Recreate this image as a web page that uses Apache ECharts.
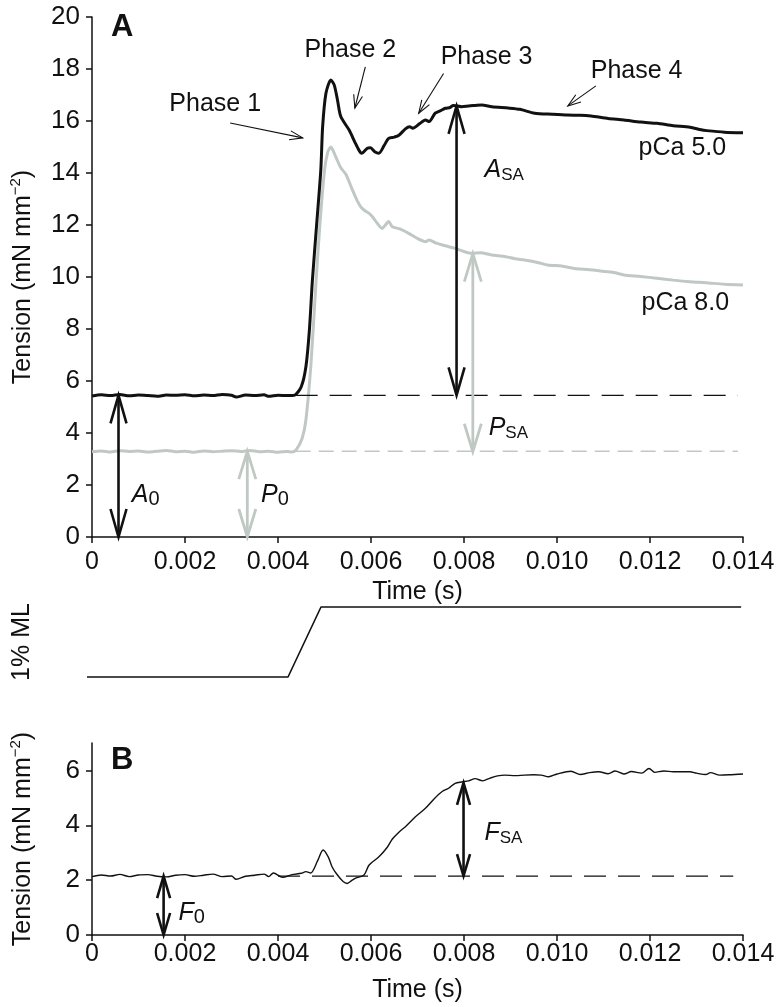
<!DOCTYPE html>
<html><head><meta charset="utf-8">
<script src="https://cdn.jsdelivr.net/npm/echarts@6/dist/echarts.min.js"></script>
<style>html,body{margin:0;padding:0;background:#fff}#c{width:780px;height:1007px}</style>
</head><body><div id="c"></div>
<script>
// ---------- data ----------
const xTickLabels = ['0','0.002','0.004','0.006','0.008','0.010','0.012','0.014'];
const yTickValuesA = [0,2,4,6,8,10,12,14,16,18,20];
const yTickValuesB = [0,2,4,6];

// pCa 5.0 (black) tension, panel A: [time s, mN mm^-2]
const pCa50 = [[0,5.42],[0.0002,5.47],[0.0004,5.44],[0.0006,5.48],[0.0008,5.43],[0.001,5.46],[0.0012,5.44],[0.0014,5.41],[0.0016,5.46],[0.0018,5.45],[0.002,5.47],[0.0022,5.43],[0.0024,5.46],[0.0026,5.44],[0.0028,5.48],[0.003,5.45],[0.0031,5.38],[0.0033,5.46],[0.0035,5.44],[0.0037,5.47],[0.0038,5.41],[0.004,5.45],[0.0042,5.44],[0.00436,5.46],[0.0045,5.78],[0.0046,6.55],[0.004675,7.96],[0.00474,9.88],[0.00483,12.0],[0.00492,14.1],[0.00496,15.78],[0.00503,17.06],[0.005137,17.58],[0.00521,17.38],[0.00528,16.8],[0.00535,16.17],[0.00553,15.65],[0.00565,15.2],[0.00574,14.88],[0.0058,14.76],[0.00592,14.95],[0.00599,14.97],[0.00608,14.82],[0.00617,14.76],[0.00628,15.05],[0.00638,15.33],[0.0065,15.38],[0.0066,15.45],[0.00674,15.7],[0.00683,15.78],[0.0069,15.72],[0.00705,15.9],[0.00717,16.04],[0.00725,15.98],[0.00738,16.3],[0.0075,16.4],[0.0076,16.49],[0.0077,16.52],[0.00777,16.6],[0.00786,16.58],[0.00795,16.55],[0.0081,16.58],[0.00824,16.6],[0.00838,16.62],[0.0086,16.55],[0.00895,16.5],[0.0092,16.45],[0.00952,16.3],[0.0099,16.26],[0.01023,16.23],[0.0105,16.22],[0.01073,16.19],[0.0111,16.1],[0.01144,16.04],[0.0118,15.96],[0.01215,15.91],[0.0125,15.82],[0.01286,15.76],[0.0131,15.66],[0.01322,15.63],[0.0136,15.57],[0.014,15.55]];

// pCa 8.0 (grey) tension, panel A
const pCa80 = [[0,3.28],[0.0002,3.31],[0.0004,3.27],[0.0006,3.32],[0.0008,3.29],[0.001,3.31],[0.0012,3.27],[0.0014,3.3],[0.0016,3.33],[0.0018,3.28],[0.002,3.3],[0.0022,3.26],[0.0024,3.31],[0.0026,3.28],[0.0028,3.3],[0.003,3.32],[0.0032,3.29],[0.0034,3.33],[0.0036,3.28],[0.0038,3.3],[0.004,3.26],[0.0042,3.29],[0.0043,3.27],[0.00439,3.35],[0.00452,3.8],[0.0046,4.5],[0.00471,6.68],[0.00482,9.88],[0.0049,12.0],[0.005,14.1],[0.00507,14.8],[0.005137,15.0],[0.00524,14.63],[0.00535,14.2],[0.00546,13.95],[0.0056,13.35],[0.0057,12.95],[0.00578,12.7],[0.00587,12.55],[0.00596,12.45],[0.00604,12.3],[0.00612,12.1],[0.00624,11.87],[0.0063,11.98],[0.00638,12.13],[0.00646,11.93],[0.00662,11.85],[0.00681,11.68],[0.00698,11.5],[0.00717,11.36],[0.00725,11.42],[0.0074,11.3],[0.0076,11.2],[0.00781,11.1],[0.008,10.98],[0.00817,10.91],[0.00835,10.93],[0.00859,10.85],[0.0089,10.78],[0.0091,10.7],[0.0093,10.65],[0.0096,10.55],[0.0098,10.46],[0.0101,10.42],[0.01037,10.33],[0.0107,10.28],[0.01109,10.2],[0.01125,10.16],[0.01144,10.08],[0.0118,10.02],[0.01215,9.95],[0.0125,9.88],[0.01286,9.82],[0.0132,9.78],[0.0136,9.72],[0.014,9.69]];

// muscle length step (1% ML), fraction of step
const lengthStep = [[-0.000385,0],[0.004275,0],[0.00498,1],[0.01396,1]];

// panel B tension
const traceB = [[0,2.13],[0.0002,2.19],[0.0004,2.15],[0.0006,2.21],[0.0008,2.13],[0.001,2.19],[0.0012,2.2],[0.0014,2.14],[0.0016,2.12],[0.0018,2.18],[0.002,2.2],[0.0022,2.14],[0.0024,2.18],[0.0026,2.22],[0.0028,2.13],[0.003,2.15],[0.0031,2.03],[0.0033,2.14],[0.0035,2.18],[0.0037,2.22],[0.0038,2.13],[0.0039,2.26],[0.0041,2.1],[0.0043,2.2],[0.0045,2.25],[0.0046,2.31],[0.0047,2.26],[0.00485,2.7],[0.00497,3.1],[0.00508,2.85],[0.00516,2.5],[0.00525,2.25],[0.0054,1.95],[0.00549,1.88],[0.00558,1.98],[0.00567,2.07],[0.00585,2.19],[0.00596,2.55],[0.00617,2.85],[0.00635,3.2],[0.00646,3.5],[0.0066,3.75],[0.00674,3.95],[0.00695,4.3],[0.00717,4.62],[0.00735,4.95],[0.00753,5.23],[0.00767,5.35],[0.00781,5.53],[0.00795,5.58],[0.0081,5.62],[0.00824,5.7],[0.0084,5.62],[0.00856,5.72],[0.00872,5.8],[0.00888,5.83],[0.0091,5.81],[0.0093,5.83],[0.0095,5.84],[0.00966,5.83],[0.00982,5.77],[0.01,5.87],[0.0103,5.97],[0.0105,5.85],[0.0107,5.92],[0.0109,5.95],[0.0111,5.88],[0.01125,5.98],[0.01144,5.87],[0.0116,5.96],[0.01182,5.9],[0.01198,6.07],[0.0121,5.93],[0.0123,5.98],[0.0125,5.95],[0.0127,5.95],[0.01286,5.95],[0.013,5.9],[0.0132,5.85],[0.0133,5.92],[0.0135,5.83],[0.0137,5.84],[0.014,5.87]];

// dashed reference levels
const dashA = [[0.00438,5.45],[0.01389,5.45]];
const dashP = [[0.00438,3.3],[0.01389,3.3]];
const dashB = [[0.0040,2.15],[0.01379,2.15]];

// double-headed measurement arrows: [time, from, to]
const arrowsBlackA = [[0.00057,0,5.45],[0.00784,5.45,16.58]];
const arrowsGreyA = [[0.00334,0,3.3],[0.00819,3.28,10.9]];
const arrowsB = [[0.00154,0,2.15],[0.00799,2.15,5.55]];

// phase pointer arrows: [t0, v0, t1(tip), v1(tip)]
const phaseArrows = [[0.002971,15.92,0.004531,15.35],[0.005878,18.08,0.005653,16.5],[0.00756,17.83,0.007026,16.3],[0.010837,17.35,0.010232,16.58]];
const phaseLabels = [[0.00265,16.65,'Phase 1'],[0.005557,18.73,'Phase 2'],[0.008485,18.44,'Phase 3'],[0.011713,17.93,'Phase 4']];
const curveLabels = [[0.012696,14.96,'pCa 5.0'],[0.01276,9.0,'pCa 8.0']];
// symbol labels: [t, v, letter, subscript]
const symbolLabelsA = [[0.000855,1.6,'A','0'],[0.003634,1.6,'P','0'],[0.008443,14.12,'A','SA'],[0.00853,4.19,'P','SA']];
const symbolLabelsB = [[0.00186,0.8,'F','0'],[0.00844,3.72,'F','SA']];
const panelLetterA = [[0.000406,19.6,'A']];
const panelLetterB = [[0.000406,6.38,'B']];

// ---------- chart ----------
const FONT = 'Liberation Sans, Arial, Helvetica, sans-serif';
const BLACK = '#111111';
const GREY = '#c0c8c4';
const chart = echarts.init(document.getElementById('c'), null, {renderer:'canvas'});

function xAxisCfg(gi, show, margin, nameGap) {
  return {
    gridIndex: gi, type: 'value', min: 0, max: 0.014, interval: 0.002, show: show,
    name: 'Time (s)', nameLocation: 'middle', nameGap: nameGap,
    nameTextStyle: {fontFamily: FONT, fontSize: 25, color: BLACK},
    axisLine: {lineStyle: {color: BLACK, width: 1.5}},
    axisTick: {length: 6, lineStyle: {color: BLACK, width: 1.5}},
    axisLabel: {fontFamily: FONT, fontSize: 25, color: BLACK, margin: margin,
      formatter: v => xTickLabels[Math.round(v / 0.002)]},
    splitLine: {show: false}
  };
}
function yAxisCfg(gi, max, ticks) {
  return {
    gridIndex: gi, type: 'value', min: 0, max: max, interval: 2,
    name: 'Tension (mN mm{sup|−2})', nameLocation: 'middle', nameGap: 54, nameRotate: 90,
    nameTextStyle: {fontFamily: FONT, fontSize: 25, color: BLACK, lineHeight: 30,
      rich: {sup: {fontFamily: FONT, fontSize: 15, color: BLACK, lineHeight: 16, verticalAlign: 'top'}}},
    axisLine: {lineStyle: {color: BLACK, width: 1.5}},
    axisTick: {length: 6, lineStyle: {color: BLACK, width: 1.5}, customValues: ticks},
    axisLabel: {fontFamily: FONT, fontSize: 26, color: BLACK, margin: 12, customValues: ticks},
    splitLine: {show: false}
  };
}

function headPts(tip, from, len, half) {
  const dx = tip[0] - from[0], dy = tip[1] - from[1];
  const L = Math.hypot(dx, dy) || 1;
  const ux = dx / L, uy = dy / L;
  const bx = tip[0] - ux * len, by = tip[1] - uy * len;
  return [[bx - uy * half, by + ux * half], [tip[0], tip[1]], [bx + uy * half, by - ux * half]];
}

function doubleArrowSeries(data, gi, color, width, len, half) {
  return {
    type: 'custom', xAxisIndex: gi, yAxisIndex: gi, clip: false, z: 5,
    data: data, encode: {x: 0, y: [1, 2]},
    renderItem: (params, api) => {
      const p1 = api.coord([api.value(0), api.value(1)]);
      const p2 = api.coord([api.value(0), api.value(2)]);
      const st = {stroke: color, lineWidth: width, fill: null, lineJoin: 'miter'};
      return {type: 'group', children: [
        {type: 'line', shape: {x1: p1[0], y1: p1[1] - 1, x2: p2[0], y2: p2[1] + 1}, style: st},
        {type: 'polyline', shape: {points: headPts(p2, p1, len, half)}, style: st},
        {type: 'polyline', shape: {points: headPts(p1, p2, len, half)}, style: st}
      ]};
    }
  };
}

function phaseArrowSeries(data, gi) {
  return {
    type: 'custom', xAxisIndex: gi, yAxisIndex: gi, clip: false, z: 5,
    data: data, encode: {x: [0, 2], y: [1, 3]},
    renderItem: (params, api) => {
      const p0 = api.coord([api.value(0), api.value(1)]);
      const p1 = api.coord([api.value(2), api.value(3)]);
      const st = {stroke: BLACK, lineWidth: 1.1, fill: null};
      return {type: 'group', children: [
        {type: 'line', shape: {x1: p0[0], y1: p0[1], x2: p1[0], y2: p1[1]}, style: st},
        {type: 'polyline', shape: {points: headPts(p1, p0, 13, 4.5)}, style: st}
      ]};
    }
  };
}

function textSeries(data, gi, styleFn) {
  return {
    type: 'custom', xAxisIndex: gi, yAxisIndex: gi, clip: false, z: 6, silent: true,
    data: data.map(d => [d[0], d[1]]),
    renderItem: (params, api) => {
      const p = api.coord([api.value(0), api.value(1)]);
      const d = data[params.dataIndex];
      return {type: 'text', x: p[0], y: p[1], style: styleFn(d)};
    }
  };
}

const plainStyle = d => ({text: d[2], fontFamily: FONT, fontSize: 25, fill: BLACK, align: 'center', verticalAlign: 'middle'});
const letterStyle = d => ({text: d[2], fontFamily: 'Liberation Sans, Arial, sans-serif', fontSize: 31, fontWeight: 'bold', fill: BLACK, align: 'left', verticalAlign: 'middle'});
const symStyle = d => ({
  text: '{i|' + d[2] + '}{s' + (d[3].length > 1 ? '2' : '1') + '|' + d[3] + '}',
  align: 'left', verticalAlign: 'middle',
  rich: {
    i: {fontFamily: FONT, fontSize: 25, fontStyle: 'italic', fill: BLACK, lineHeight: 28},
    s1: {fontFamily: FONT, fontSize: 20, fill: BLACK, lineHeight: 16, verticalAlign: 'bottom'},
    s2: {fontFamily: FONT, fontSize: 17, fill: BLACK, lineHeight: 14, verticalAlign: 'bottom'}
  }
});

const lineSeries = (data, gi, color, width, extra) => Object.assign({
  type: 'line', xAxisIndex: gi, yAxisIndex: gi, data: data, showSymbol: false, symbol: 'none',
  smooth: 0.25, lineStyle: {color: color, width: width}, silent: true
}, extra || {});

const option = {
  animation: false,
  backgroundColor: '#ffffff',
  grid: [
    {left: 88, top: 17, width: 655, height: 520},
    {left: 88, top: 607, width: 655, height: 70},
    {left: 88, top: 743, width: 655, height: 192}
  ],
  xAxis: [xAxisCfg(0, true, 13, 40), xAxisCfg(1, false, 10, 40), xAxisCfg(2, true, 7, 43)],
  yAxis: [
    yAxisCfg(0, 20, yTickValuesA),
    {gridIndex: 1, type: 'value', min: 0, max: 1, name: '1% ML', nameLocation: 'middle', nameGap: 53, nameRotate: 90,
      nameTextStyle: {fontFamily: FONT, fontSize: 25, color: BLACK},
      axisLine: {show: false}, axisTick: {show: false}, axisLabel: {show: false}, splitLine: {show: false}},
    yAxisCfg(2, 7, yTickValuesB)
  ],
  series: [
    lineSeries(pCa80, 0, GREY, 3),
    lineSeries(pCa50, 0, BLACK, 3),
    lineSeries(dashP, 0, GREY, 1.4, {smooth: false, lineStyle: {color: GREY, width: 1.4, type: [15, 8]}}),
    lineSeries(dashA, 0, BLACK, 1.3, {smooth: false, lineStyle: {color: BLACK, width: 1.3, type: [22, 12]}}),
    doubleArrowSeries(arrowsGreyA, 0, GREY, 2.8, 28, 8.5),
    doubleArrowSeries(arrowsBlackA, 0, BLACK, 2.6, 28, 8),
    phaseArrowSeries(phaseArrows, 0),
    textSeries(phaseLabels, 0, plainStyle),
    textSeries(curveLabels, 0, plainStyle),
    textSeries(symbolLabelsA, 0, symStyle),
    textSeries(panelLetterA, 0, letterStyle),
    lineSeries(lengthStep, 1, BLACK, 1.6, {smooth: false, clip: false}),
    lineSeries(traceB, 2, BLACK, 1.4, {smooth: 0.3}),
    lineSeries(dashB, 2, BLACK, 1.2, {smooth: false, lineStyle: {color: BLACK, width: 1.2, type: [22, 12]}}),
    doubleArrowSeries(arrowsB, 2, BLACK, 2.6, 22, 6.5),
    textSeries(symbolLabelsB, 2, symStyle),
    textSeries(panelLetterB, 2, letterStyle)
  ]
};
chart.setOption(option);
</script></body></html>
